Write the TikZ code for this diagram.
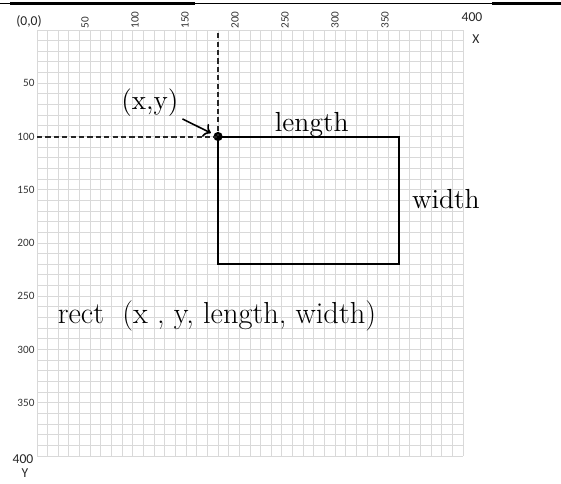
\documentclass[tikz,border=0pt]{standalone}
\usepackage{fontspec}
\setsansfont{Carlito}
\usetikzlibrary{arrows.meta, positioning}
\colorlet{gridline}{black!15}
\colorlet{dashline}{black!85}

\begin{document}
\begin{tikzpicture}[x=0.5pt, y=-0.5pt,
    tick/.style={font=\sffamily\fontsize{5.6}{6}\selectfont, inner sep=0pt, text=black!80},
    corner/.style={font=\sffamily\fontsize{6.8}{7}\selectfont, inner sep=0pt, text=black!85},
    lbl/.style={font=\fontsize{13.8}{16}\selectfont, inner sep=0pt}]
    \useasboundingbox (0,0) rectangle (561,483);

    \draw[line width=0.5pt] (0,3.5) -- (561,3.5);
    \draw[line width=1.4pt] (10,3.5) -- (195,3.5);
    \draw[line width=1.4pt] (492,3.5) -- (561,3.5);

    \foreach \v [count=\k] in {50,100,...,350}
        \node[tick, rotate=90, anchor=west] (tx\k) at ({35+50*\k},29) {\v};
    \node[corner] (origin) at (29,21) {(0,0)};
    \node[corner] (xmax) at (472,17) {400};
    \node[corner] (xname) at (476,39) {X};
    \node[corner] (ymax) at (23,459) {400};
    \node[corner] (yname) at (25,473) {Y};

    \begin{scope}[shift={(37,30)}, x=0.5325pt, y=-0.5325pt]
        \foreach \g in {0,10,...,400} {
            \draw[gridline, line width=0.5pt] (\g,0) -- (\g,400);
            \draw[gridline, line width=0.5pt] (0,\g) -- (400,\g);
        }
        \foreach \v in {50,100,...,350}
            \node[tick, anchor=east] (ty\v) at (-2,\v) {\v};

        \node[circle, fill=black, inner sep=0pt, minimum size=4.6pt] (pt) at (170,100) {};
        \coordinate (far) at (340,220);
        \coordinate (vtop) at (170,3);
        \coordinate (hleft) at (0,100);

        \draw[dashline, line width=1pt, dash pattern=on 2.6pt off 1.6pt] (vtop) -- (pt.center);
        \draw[dashline, line width=1pt, dash pattern=on 2.6pt off 1.6pt] (hleft) -- (pt.center);
        \draw[line width=1pt] (pt.center) rectangle (far);

        \node[lbl] (xy) at (106,68.5) {(x,y)};
        \draw[->, line width=0.8pt, shorten <=2pt, shorten >=1.5pt] (xy.south east) -- (pt);
        \node[lbl] (len) at (258,89) {length};
        \node[lbl] (wid) at (384,159) {width};
        \node[font=\fontsize{15.2}{18}\selectfont, inner sep=0pt] (call) at (169,268.5) {rect\ \ (x , y,\ length, width)};
    \end{scope}
\end{tikzpicture}
\end{document}
